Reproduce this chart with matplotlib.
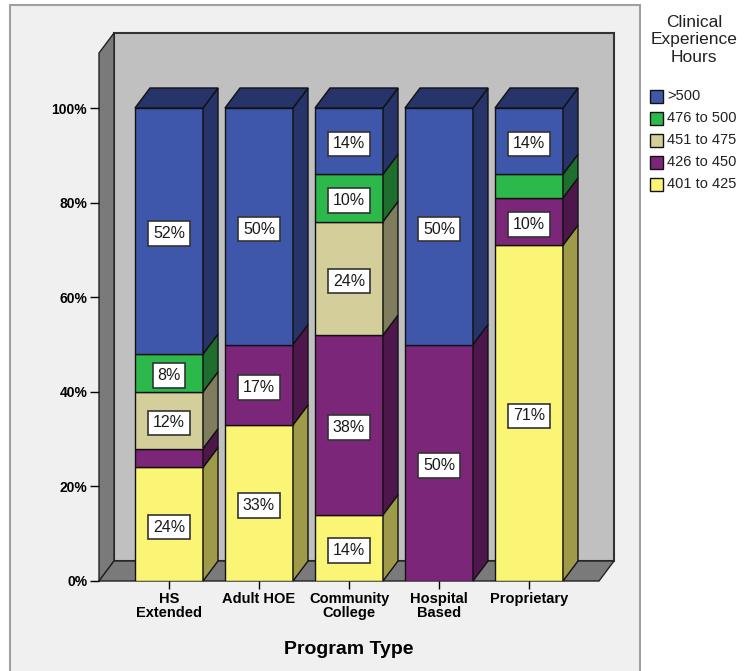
import matplotlib.pyplot as plt
from matplotlib.patches import Polygon, Rectangle

plt.rcParams['font.family'] = ['Liberation Sans', 'DejaVu Sans']

programs = ['HS\nExtended', 'Adult HOE', 'Community\nCollege', 'Hospital\nBased', 'Proprietary']
hours = ['401 to 425', '426 to 450', '451 to 475', '476 to 500', '>500']

# percent of students per program, one list per hours band (bottom to top of the stack)
pct_401_425 = [24, 33, 14, 0, 71]
pct_426_450 = [4, 17, 38, 50, 10]
pct_451_475 = [12, 0, 24, 0, 0]
pct_476_500 = [8, 0, 10, 0, 5]
pct_over_500 = [52, 50, 14, 50, 14]
bands = [pct_401_425, pct_426_450, pct_451_475, pct_476_500, pct_over_500]

front_colors = ['#faf574', '#7c267a', '#d4cf9a', '#2db84b', '#3f57ab']
side_colors = ['#9e9a4a', '#4d174b', '#807d5e', '#1e6e2e', '#26346a']

W, H = 754, 671
fig = plt.figure(figsize=(W / 100, H / 100), dpi=100)
fig.patch.set_facecolor('white')

# panel behind the chart
fig.patches.append(Rectangle((10 / W, -0.05), 630 / W, 1 - 5 / H + 0.05,
                             transform=fig.transFigure, fc='#f0f0f0',
                             ec='#a0a0a0', lw=1.5, zorder=-1))

ax = fig.add_axes([99 / W, 1 - 581 / H, 500 / W, 528 / H])
ax.patch.set_visible(False)
px_per_pct = 473 / 100
x0, x1 = -0.778, 4.778
ytop = 528 / px_per_pct
ax.set_xlim(x0, x1)
ax.set_ylim(0, ytop)
for s in ax.spines.values():
    s.set_visible(False)

# depth offset of the 3D look, in data units
ddx = 15 / 90
ddy = 20 / px_per_pct
bw = 68 / 90

wall_kw = dict(clip_on=False, lw=1, ec='#222222')
ax.add_patch(Polygon([(x0 + ddx, ddy), (x1 + ddx, ddy), (x1 + ddx, ytop + ddy),
                      (x0 + ddx, ytop + ddy)], fc='#c0c0c0', zorder=1,
                     clip_on=False, lw=1.5, ec='#333333'))
ax.add_patch(Polygon([(x0, 0), (x0, ytop), (x0 + ddx, ytop + ddy), (x0 + ddx, ddy)],
                     fc='#7a7a7a', zorder=1, **wall_kw))
ax.add_patch(Polygon([(x0, 0), (x1, 0), (x1 + ddx, ddy), (x0 + ddx, ddy)],
                     fc='#7a7a7a', zorder=1, **wall_kw))

for i in range(len(programs)):
    bottom = 0
    top_color = None
    for band, fc, sc in zip(bands, front_colors, side_colors):
        v = band[i]
        if v <= 0:
            continue
        ax.bar(i, v, bottom=bottom, width=bw, color=fc, edgecolor='#111111',
               lw=1, zorder=2)
        r = i + bw / 2
        ax.add_patch(Polygon([(r, bottom), (r + ddx, bottom + ddy),
                              (r + ddx, bottom + v + ddy), (r, bottom + v)],
                             fc=sc, ec='#111111', lw=1, zorder=2, clip_on=False))
        if v >= 8:
            ax.annotate(f'{v}%', (i, bottom + v / 2), xytext=(0, -2),
                        textcoords='offset points', ha='center', va='center',
                        fontsize=11.5, color='#1a1a1a', zorder=3,
                        bbox=dict(boxstyle='square,pad=0.3', fc='white',
                                  ec='#333333', lw=1.2))
        bottom += v
        top_color = sc
    l = i - bw / 2
    ax.add_patch(Polygon([(l, bottom), (l + ddx, bottom + ddy),
                          (l + bw + ddx, bottom + ddy), (l + bw, bottom)],
                         fc=top_color, ec='#111111', lw=1, zorder=2, clip_on=False))

ax.set_yticks(range(0, 101, 20))
ax.set_yticklabels([f'{t}%' for t in range(0, 101, 20)], fontsize=10,
                   fontweight='bold')
ax.set_xticks(range(len(programs)))
ax.set_xticklabels(programs, fontsize=10.5, fontweight='bold', linespacing=0.95)
ax.tick_params(axis='y', direction='out', length=6.5, width=1, pad=2)
ax.tick_params(axis='x', direction='out', length=6, width=1, pad=2)

fig.text(348.5 / W, 1 - 650 / H, 'Program Type', fontsize=14, fontweight='bold',
         ha='center', va='center')

# legend, top entry is the top of the stack
fig.text(694 / W, 1 - 15 / H, 'Clinical\nExperience\nHours', fontsize=12.5,
         ha='center', va='top', multialignment='center', linespacing=1.2,
         color='#222222')
for k, (lab, fc) in enumerate(zip(hours[::-1], front_colors[::-1])):
    yc = 96 + 22 * k
    fig.patches.append(Rectangle((650 / W, 1 - (yc + 6.5) / H), 13 / W, 13 / H,
                                 transform=fig.transFigure, fc=fc, ec='#111111',
                                 lw=1))
    fig.text(667 / W, 1 - yc / H, lab, fontsize=10.5, va='center', ha='left',
             color='#222222')

fig.savefig('out.png', dpi=100)
